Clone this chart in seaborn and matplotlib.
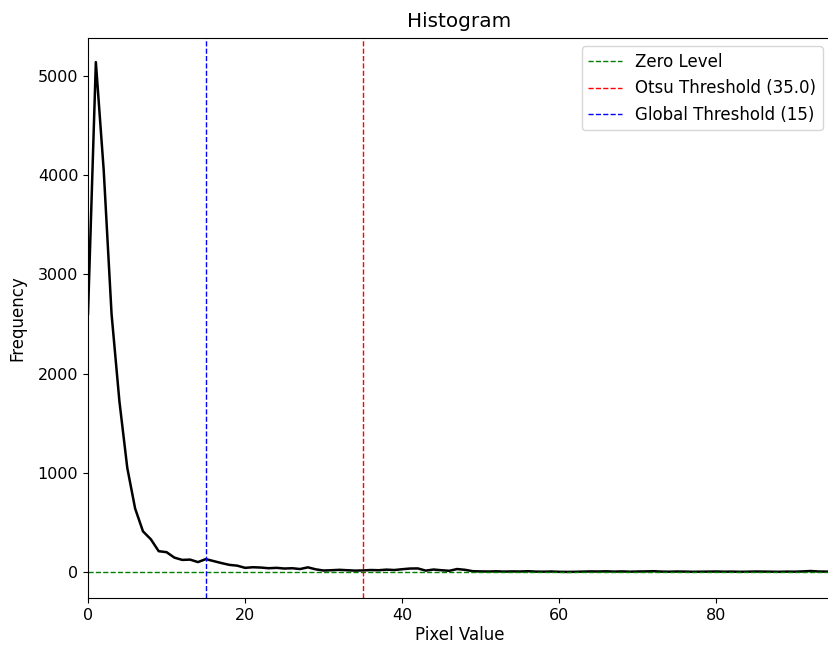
import matplotlib
matplotlib.use("Agg")
import matplotlib.pyplot as plt
import seaborn as sns
import numpy as np
import pandas as pd

# Histogram counts per pixel value
pixel_values = list(range(0, 96))
frequency = [
    2600, 5140, 4050, 2600, 1720, 1050, 640, 410, 330, 210,
    200, 145, 122, 125, 100, 130, 110, 90, 72, 64,
    42, 48, 45, 38, 42, 35, 38, 30, 47, 27,
    15, 18, 22, 18, 14, 16, 20, 18, 24, 20,
    28, 35, 36, 14, 25, 18, 12, 30, 22, 8,
    6, 5, 7, 4, 6, 5, 8, 4, 3, 5,
    2, 1, 2, 4, 6, 5, 7, 4, 6, 3,
    5, 6, 8, 4, 3, 5, 4, 2, 3, 4,
    5, 3, 4, 2, 3, 5, 4, 3, 2, 4,
    3, 6, 10, 5, 4, 3,
]

zero_level = 0
otsu_threshold = 35.0
global_threshold = 15

df = pd.DataFrame({"Pixel Value": pixel_values, "Frequency": frequency})

plt.rcParams["font.size"] = 12

fig = plt.figure(figsize=(8.29, 6.45), dpi=100)
ax = fig.add_axes([88 / 829, 1 - 598 / 645, (831 - 88) / 829, 560 / 645])

sns.lineplot(data=df, x="Pixel Value", y="Frequency", color="black",
             linewidth=1.8, ax=ax)

ax.axhline(zero_level, color="g", linestyle="--", linewidth=1, label="Zero Level")
ax.axvline(otsu_threshold, color="r", linestyle="--", linewidth=1,
           label=f"Otsu Threshold ({otsu_threshold})")
ax.axvline(global_threshold, color="b", linestyle="--", linewidth=1,
           label=f"Global Threshold ({global_threshold})")

ax.set_xlim(0, 94.6)
ax.set_ylim(-262, 5383)
ax.set_xticks([0, 20, 40, 60, 80])
ax.set_yticks([0, 1000, 2000, 3000, 4000, 5000])
ax.tick_params(labelsize=11.5)
ax.set_title("Histogram", pad=8)
ax.set_xlabel("Pixel Value", labelpad=2)
ax.set_ylabel("Frequency", labelpad=8)
ax.legend(loc="upper right")

fig.savefig("out.png", dpi=100)
